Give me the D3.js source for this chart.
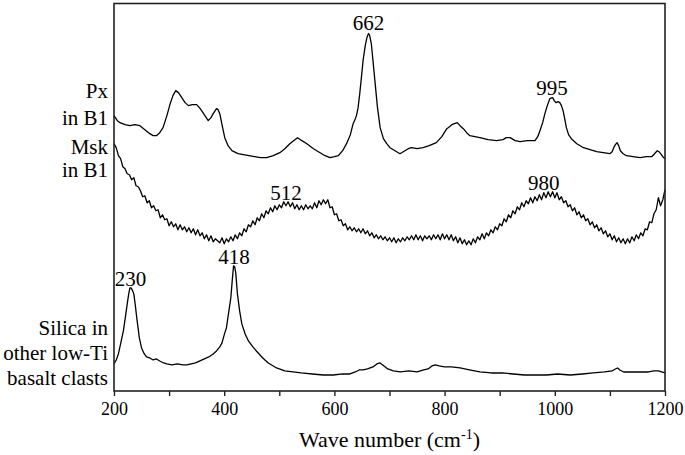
<!DOCTYPE html>
<html>
<head>
<meta charset="utf-8">
<script src="https://cdn.jsdelivr.net/npm/d3@7"></script>
<style>
    body { margin: 0; background: #fff; }
    text { fill: #000; }
</style>
</head>
<body>
<svg id="chart" width="685" height="455"></svg>
<script>
// Raman shift (cm-1) vs intensity (arbitrary, offset stacked)
const pxInB1 = [
    [200,275],[206,270],[211,268],[220,266],[229,265],[238,266],[247,265],[256,261],[265,257],[271,255],[277,255],
    [283,258],[289,263],[296,275],[302,287],[307,295],[312,300],[317,298],[323,293],[329,288],[335,285],[342,286],
    [350,286],[355,283],[359,280],[365,275],[371,270],[376,273],[380,277],[386,282],[389,281],[392,277],[396,266],
    [401,253],[407,245],[414,240],[425,237],[435,236],[445,235],[455,234],[466,233],[477,233],[489,235],[501,238],
    [510,242],[519,247],[526,250],[533,253],[541,250],[550,247],[562,242],[574,238],[583,235],[592,233],[600,234],
    [607,235],[615,240],[622,247],[629,256],[634,267],[638,272],[640,275],[643,283],[646,297],[649,313],[652,330],
    [656,345],[659,353],[662,357],[664,355],[667,347],[670,330],[674,307],[678,284],[683,263],[689,252],[695,247],
    [701,243],[710,240],[719,237],[728,240],[734,242],[740,243],[750,242],[761,243],[772,245],[785,248],[795,254],
    [804,262],[809,264],[813,266],[818,267],[823,268],[828,265],[834,262],[840,258],[846,255],[855,254],[864,253],
    [879,251],[894,250],[906,251],[912,253],[919,253],[928,250],[937,249],[950,250],[964,250],[969,254],[973,260],
    [978,268],[982,277],[987,286],[991,292],[996,293],[999,290],[1002,288],[1006,289],[1009,288],[1012,285],[1015,280],
    [1018,272],[1021,263],[1025,256],[1030,252],[1040,247],[1052,243],[1064,241],[1076,239],[1088,238],[1100,237],
    [1104,239],[1107,243],[1110,246],[1113,248],[1116,245],[1119,240],[1124,237],[1130,235],[1142,234],[1155,233],
    [1166,234],[1176,234],[1181,237],[1186,240],[1189,239],[1192,237],[1196,234],[1200,232]
];

const mskInB1 = [
    [200,247],[204,243],[208,235],[212,232],[216,224],[220,222],[224,217],[228,216],[232,211],[236,213],[240,205],
    [244,204],[248,200],[252,194],[256,195],[260,188],[264,190],[268,183],[272,185],[276,180],[280,181],[284,173],
    [288,176],[292,171],[296,172],[300,165],[304,169],[308,164],[312,167],[316,161],[320,166],[324,161],[328,164],
    [332,159],[336,163],[340,158],[344,162],[348,156],[352,161],[356,155],[360,158],[364,152],[368,156],[372,150],
    [376,155],[380,149],[384,152],[388,150],[392,148],[396,153],[400,147],[404,152],[408,149],[412,154],[416,150],
    [420,156],[424,152],[428,158],[432,155],[436,162],[440,159],[444,166],[448,164],[452,170],[456,166],[460,173],
    [464,170],[468,177],[472,173],[476,180],[480,177],[484,183],[488,179],[492,185],[496,181],[500,186],[504,183],
    [508,189],[512,185],[516,189],[520,184],[524,188],[528,182],[532,186],[536,181],[540,185],[544,181],[548,186],
    [552,182],[556,185],[560,182],[564,188],[568,183],[572,190],[576,186],[580,191],[584,187],[588,191],[592,183],
    [596,184],[600,176],[604,177],[608,170],[612,171],[616,165],[620,167],[624,161],[628,164],[632,160],[636,163],
    [640,159],[644,162],[648,158],[652,162],[656,157],[660,160],[664,155],[668,158],[672,153],[676,156],[680,152],
    [684,155],[688,151],[692,154],[696,150],[700,153],[704,149],[708,153],[712,148],[716,152],[720,149],[724,153],
    [728,150],[732,154],[736,151],[740,155],[744,151],[748,156],[752,151],[756,155],[760,150],[764,155],[768,152],
    [772,155],[776,151],[780,156],[784,152],[788,156],[792,151],[796,157],[800,152],[804,156],[808,151],[812,156],
    [816,150],[820,154],[824,148],[828,153],[832,147],[836,151],[840,146],[844,150],[848,146],[852,152],[856,148],
    [860,154],[864,151],[868,157],[872,152],[876,158],[880,155],[884,161],[888,158],[892,164],[896,161],[900,167],
    [904,165],[908,172],[912,169],[916,176],[920,173],[924,180],[928,177],[932,184],[936,181],[940,188],[944,184],
    [948,190],[952,187],[956,193],[960,188],[964,194],[968,190],[972,196],[976,191],[980,198],[984,193],[988,199],
    [992,194],[996,199],[1000,193],[1004,198],[1008,191],[1012,194],[1016,188],[1020,190],[1024,184],[1028,186],
    [1032,180],[1036,183],[1040,176],[1044,179],[1048,173],[1052,176],[1056,170],[1060,172],[1064,166],[1068,169],
    [1072,163],[1076,166],[1080,160],[1084,163],[1088,157],[1092,160],[1096,154],[1100,157],[1104,151],[1108,155],
    [1112,149],[1116,153],[1120,148],[1124,152],[1128,147],[1132,152],[1136,148],[1140,154],[1144,150],[1148,156],
    [1152,152],[1156,158],[1160,155],[1164,162],[1168,161],[1172,169],[1176,168],[1180,177],[1184,181],[1188,193],
    [1192,185],[1196,191],[1200,201]
];

const silica = [
    [200,27],[204,31],[208,37],[212,47],[217,60],[221,75],[224,87],[227,98],[229,103],[231,103],[233,101],[236,97],
    [239,84],[242,70],[246,53],[250,43],[255,37],[259,34],[265,33],[271,31],[277,32],[283,30],[290,28],[296,27],
    [305,26],[315,27],[325,26],[332,26],[340,27],[348,28],[356,30],[364,32],[372,34],[380,37],[386,40],[392,44],
    [396,48],[400,56],[404,63],[408,78],[412,93],[415,113],[417,125],[419,124],[421,118],[424,97],[428,80],[432,67],
    [438,57],[444,50],[452,44],[460,39],[470,33],[480,28],[495,23],[510,20],[525,19],[540,18],[560,17],[580,16],
    [598,16],[615,17],[628,17],[638,19],[645,21],[652,21],[660,22],[670,24],[677,27],[683,28],[690,25],[697,22],
    [707,20],[720,19],[735,20],[750,19],[762,21],[770,22],[777,25],[783,26],[790,25],[800,24],[812,24],[828,23],
    [845,21],[864,19],[885,18],[905,18],[925,17],[945,16],[965,16],[985,16],[1005,17],[1028,16],[1050,17],[1070,18],
    [1090,19],[1104,20],[1110,22],[1114,23],[1118,21],[1125,19],[1140,19],[1155,19],[1170,19],[1180,20],[1188,20],
    [1194,19],[1200,18]
];

// peak annotations: [wavenumber, intensity of label centre, text]
const peakLabels = [
    [662, 368, '662'],
    [995, 303, '995'],
    [512, 198, '512'],
    [980, 208, '980'],
    [230, 112, '230'],
    [418, 134, '418']
];

// spectrum names: [intensity of line centre, text]
const sideLabels = [
    [300, 'Px'], [273, 'in B1'],
    [244, 'Msk'], [221, 'in B1'],
    [63, 'Silica in'], [38, 'other low-Ti'], [13, 'basalt clasts']
];

const tickValues = d3.range(200, 1201, 100);
const labelTicks = [200, 400, 600, 800, 1000, 1200];

const serif = '"Liberation Serif", "Times New Roman", Tinos, "DejaVu Serif", "Noto Serif", serif';

let margin = {left: 114, right: 20, top: 3.5, bottom: 64},
    width = 685,
    height = 455;

let svg = d3.select('#chart');

let x = d3.scaleLinear()
    .domain([200, 1200])
    .range([margin.left, width - margin.right]);

let y = d3.scaleLinear()
    .domain([0, 387])
    .range([height - margin.bottom, margin.top]);

let line = d3.line()
    .x(d => x(d[0]))
    .y(d => y(d[1]));

// spectra
let spectra = [pxInB1, mskInB1, silica];
spectra.forEach((set, i) => {
    svg.append('path')
        .datum(set)
        .attr('class', `spectrum id-${i}`)
        .attr('d', line)
        .attr('fill', 'none')
        .attr('stroke', '#000')
        .attr('stroke-width', 1.3)
        .attr('stroke-linejoin', 'round')
});

// frame
svg.append('rect')
    .attr('x', x.range()[0])
    .attr('y', margin.top)
    .attr('width', x.range()[1] - x.range()[0])
    .attr('height', y.range()[0] - margin.top)
    .attr('fill', 'none')
    .attr('stroke', '#222')
    .attr('stroke-width', 1.6);

// bottom axis
let xAxis = d3.axisBottom(x)
    .tickValues(tickValues)
    .tickSize(5)
    .tickPadding(6)
    .tickFormat(d => labelTicks.includes(d) ? d : '');

let gx = svg.append('g')
    .attr('transform', `translate(0,${y.range()[0]})`)
    .call(xAxis);

gx.attr('font-family', null);
gx.select('.domain').remove();
gx.selectAll('.tick line').attr('stroke', '#222').attr('stroke-width', 1.4);
gx.selectAll('.tick text')
    .style('font-family', serif)
    .style('font-size', '18px')
    .attr('fill', '#000');

// axis title
let title = svg.append('text')
    .attr('x', (x.range()[0] + x.range()[1]) / 2)
    .attr('y', 447)
    .attr('text-anchor', 'middle')
    .style('font-family', serif)
    .style('font-size', '22px');

title.append('tspan').text('Wave number (cm');
title.append('tspan').text('-1').attr('dy', -8).style('font-size', '14px');
title.append('tspan').text(')').attr('dy', 8);

// peak labels
svg.selectAll('text.peak')
    .data(peakLabels)
    .enter().append('text')
    .attr('class', 'peak')
    .attr('x', d => x(d[0]))
    .attr('y', d => y(d[1]))
    .attr('dy', '0.35em')
    .attr('text-anchor', 'middle')
    .style('font-family', serif)
    .style('font-size', '21px')
    .text(d => d[2]);

// spectrum names on the left
svg.selectAll('text.name')
    .data(sideLabels)
    .enter().append('text')
    .attr('class', 'name')
    .attr('x', margin.left - 6)
    .attr('y', d => y(d[0]))
    .attr('dy', '0.35em')
    .attr('text-anchor', 'end')
    .style('font-family', serif)
    .style('font-size', '21px')
    .text(d => d[1]);
</script>
</body>
</html>
